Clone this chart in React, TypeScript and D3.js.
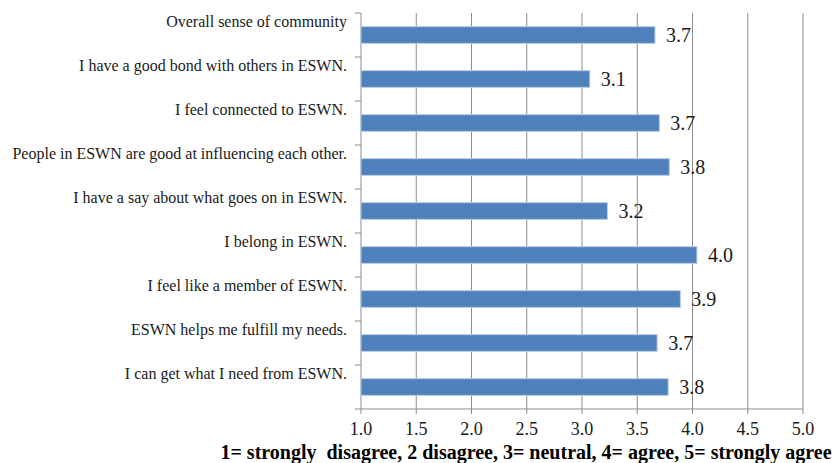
import * as d3 from "d3";

const categories = [
  "Overall sense of community",
  "I have a good bond with others in ESWN.",
  "I feel connected to ESWN.",
  "People in ESWN are good at influencing each other.",
  "I have a say about what goes on in ESWN.",
  "I belong in ESWN.",
  "I feel like a member of ESWN.",
  "ESWN helps me fulfill my needs.",
  "I can get what I need from ESWN.",
];
const values = [3.66, 3.07, 3.7, 3.79, 3.23, 4.04, 3.89, 3.68, 3.78];
const xTicks = [1.0, 1.5, 2.0, 2.5, 3.0, 3.5, 4.0, 4.5, 5.0];
const axisTitle = "1= strongly  disagree, 2 disagree, 3= neutral, 4= agree, 5= strongly agree";

const W = 834;
const H = 463;
const left = 361, right = 803, top = 13, bottom = 409;
const font = "Liberation Serif, Tinos, DejaVu Serif, serif";

export default function App() {
  const x = d3.scaleLinear().domain([1, 5]).range([left, right]);
  const y = d3.scaleBand<string>()
    .domain(categories)
    .range([top, bottom])
    .paddingInner(0.62)
    .paddingOuter(0.31);
  const step = y.step();
  // category boundaries for the tick marks on the left axis
  const bounds = d3.range(categories.length + 1).map(i => top + i * step);

  return (
    <div style={{position: "absolute", left: 0, top: 0}}>
      <svg width={W} height={H} style={{display: "block", background: "#fff", fontFamily: font}}>
        {/* gridlines */}
        {xTicks.slice(1).map(t => (
          <line key={"g" + t} x1={x(t)} x2={x(t)} y1={top} y2={bottom} stroke="#8c8c8c" strokeWidth={1} />
        ))}
        {/* left axis */}
        <line x1={left} x2={left} y1={top} y2={bottom} stroke="#8c8c8c" />
        {bounds.map((b, i) => (
          <line key={"yt" + i} x1={left - 6} x2={left} y1={b} y2={b} stroke="#8c8c8c" />
        ))}
        {/* bottom axis */}
        <line x1={left} x2={right} y1={bottom} y2={bottom} stroke="#8c8c8c" />
        {xTicks.map(t => (
          <line key={"xt" + t} x1={x(t)} x2={x(t)} y1={bottom} y2={bottom + 5} stroke="#8c8c8c" />
        ))}
        {xTicks.map(t => (
          <text key={"xl" + t} x={x(t)} y={435} textAnchor="middle" fontSize={18} fill="#1a1a1a">
            {t.toFixed(1)}
          </text>
        ))}
        {/* bars */}
        {categories.map((c, i) => (
          <rect
            key={"b" + i}
            x={x(1)}
            y={y(c)}
            width={x(values[i]) - x(1)}
            height={y.bandwidth()}
            fill="#4f81bd"
            stroke="#b9cde5"
            strokeWidth={1}
          />
        ))}
        {/* value labels */}
        {categories.map((c, i) => (
          <text
            key={"v" + i}
            x={x(values[i]) + 11}
            y={(y(c) ?? 0) + y.bandwidth() / 2 + 7}
            fontSize={20}
            fill="#1a1a1a"
          >
            {values[i].toFixed(1)}
          </text>
        ))}
        {/* category labels */}
        {categories.map((c, i) => (
          <text
            key={"c" + i}
            x={347}
            y={bounds[i] + 14}
            textAnchor="end"
            fontSize={16}
            fill="#1a1a1a"
          >
            {c}
          </text>
        ))}
        <text x={526} y={459} textAnchor="middle" fontSize={20} fontWeight="bold" fill="#000" style={{whiteSpace: "pre"}}>
          {axisTitle}
        </text>
      </svg>
    </div>
  );
}
